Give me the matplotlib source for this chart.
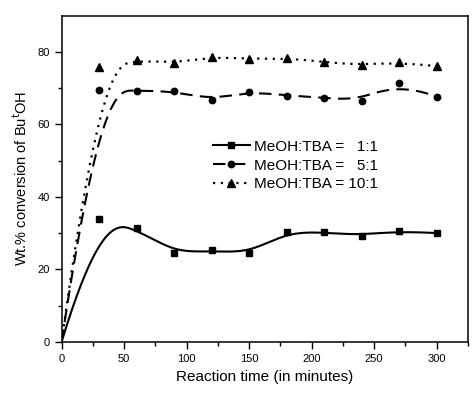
import numpy as np
import matplotlib
matplotlib.use("Agg")
import matplotlib.pyplot as plt

plt.rcParams['font.family'] = ['Liberation Sans', 'DejaVu Sans']

# reaction time (min) and conversion (wt.%)
time = [30, 60, 90, 120, 150, 180, 210, 240, 270, 300]
conv_1 = [34.0, 31.4, 24.5, 25.2, 24.4, 30.3, 30.2, 29.3, 30.6, 30.0]
conv_5 = [69.6, 69.3, 69.2, 66.8, 69.1, 68.0, 67.4, 66.5, 71.5, 67.7]
conv_10 = [75.9, 77.9, 76.9, 78.7, 78.1, 78.3, 77.3, 76.3, 77.2, 76.1]
labels = ['MeOH:TBA =   1:1', 'MeOH:TBA =   5:1', 'MeOH:TBA = 10:1']


def bspline(px, py, n=500):
    """clamped cubic B-spline using the data as control points (Origin style)"""
    px = np.asarray(px, float)
    py = np.asarray(py, float)
    m = len(px)
    k = 3
    inner = np.arange(1, m - k)
    knots = np.concatenate([np.zeros(k + 1), inner, np.full(k + 1, m - k)])
    t = np.linspace(0, m - k, n)
    t[-1] -= 1e-9
    # degree 0
    B = np.zeros((n, len(knots) - 1))
    for i in range(len(knots) - 1):
        B[:, i] = (t >= knots[i]) & (t < knots[i + 1])
    for d in range(1, k + 1):
        Bn = np.zeros((n, len(knots) - 1 - d))
        for i in range(len(knots) - 1 - d):
            a = knots[i + d] - knots[i]
            b = knots[i + d + 1] - knots[i + 1]
            left = (t - knots[i]) / a * B[:, i] if a > 0 else 0
            right = (knots[i + d + 1] - t) / b * B[:, i + 1] if b > 0 else 0
            Bn[:, i] = left + right
        B = Bn
    return B @ px, B @ py


fig = plt.figure(figsize=(4.74, 3.96), dpi=100)
ax = fig.add_axes([0.130, 0.137, 0.857, 0.823])

styles = [
    (conv_1, 's', dict(linestyle='-', linewidth=1.5), 4.3),
    (conv_5, 'o', dict(linestyle=(0, (6, 3.5)), linewidth=1.5), 4.6),
    (conv_10, '^', dict(linestyle=(0, (1, 2.5)), linewidth=1.6), 5.2),
]
for (vals, mk, ls, ms), lab in zip(styles, labels):
    cx, cy = bspline([0] + time, [0] + vals)
    ax.plot(cx, cy, color='black', **ls)
    ax.plot(time, vals, mk, color='black', markersize=ms, linestyle='none')
    ax.plot([], [], color='black', marker=mk, markersize=ms, label=lab, **ls)

ax.set_xlim(0, 325)
ax.set_ylim(0, 90)
ax.set_xticks([0, 50, 100, 150, 200, 250, 300])
ax.set_xticks(np.arange(25, 326, 50), minor=True)
ax.set_yticks([0, 20, 40, 60, 80])
ax.set_yticks([10, 30, 50, 70], minor=True)
ax.tick_params(which='major', direction='out', length=5, width=1, labelsize=8,
               top=False, right=False)
ax.tick_params(which='minor', direction='out', length=3, width=1,
               top=False, right=False)
for s in ax.spines.values():
    s.set_linewidth(1.1)

ax.set_xlabel('Reaction time (in minutes)', fontsize=11, labelpad=5)
ax.set_ylabel('Wt.% conversion of Bu$^{\\mathrm{t}}$OH', fontsize=10.5, labelpad=5)

ax.legend(loc='upper left', bbox_to_anchor=(0.373, 0.62), frameon=False,
          fontsize=11, handlelength=2.4, numpoints=1, labelspacing=0.32,
          handletextpad=0.25, borderaxespad=0, borderpad=0)

fig.savefig('out.png', dpi=100)
